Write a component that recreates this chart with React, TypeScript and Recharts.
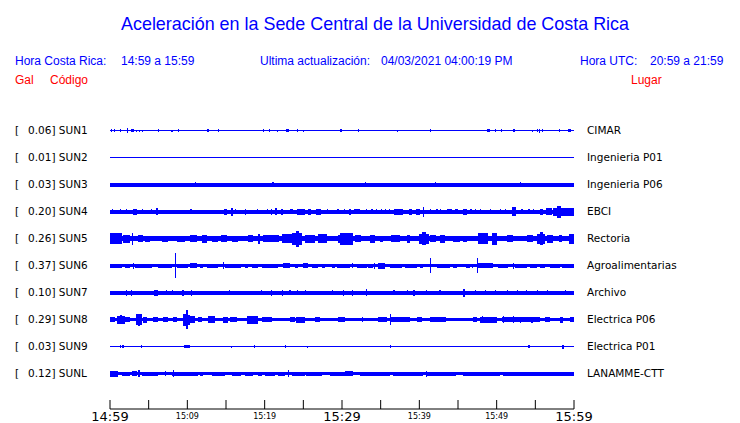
import { Area, ComposedChart, XAxis, YAxis } from "recharts";

// Minutes after 14:59 local time; one tick every 5 minutes, labels every 10.
const tickMinutes = [0, 5, 10, 15, 20, 25, 30, 35, 40, 45, 50, 55, 60];
const tickLabels = ["14:59", "", "15:09", "", "15:19", "", "15:29", "", "15:39", "", "15:49", "", "15:59"];

const channels = ["SUN1", "SUN2", "SUN3", "SUN4", "SUN5", "SUN6", "SUN7", "SUN8", "SUN9", "SUNL"];
const peakGal = [0.06, 0.01, 0.03, 0.2, 0.26, 0.37, 0.1, 0.29, 0.03, 0.12];
const places = [
    "CIMAR", "Ingenieria P01", "Ingenieria P06", "EBCI", "Rectoria",
    "Agroalimentarias", "Archivo", "Electrica P06", "Electrica P01", "LANAMME-CTT",
];

// background noise half-amplitude of each trace (counts)
const noiseLevel = [0.6, 0.6, 2, 2, 2.5, 1.3, 2, 1.7, 0.6, 1.3];

// bursts: [minute, half-amplitude in counts, duration in minutes (default 0.15)]
type Burst = [number, number, number?];

const sun1: Burst[] = [
    [0.13, 1.5], [0.51, 1.5], [1.29, 1.5], [2.2, 2.5], [2.72, 1.5, 0.4], [3.36, 1], [3.7, 1], [4.1, 1],
    [6.25, 1.5], [7.9, 1, 0.3], [8.75, 1.5], [12.6, 1.5], [14.0, 1.5], [19.8, 1.5], [20.6, 1.5], [21.6, 1],
    [22.7, 1.5, 0.4], [24.2, 1.5], [25.0, 1], [29.8, 1.5], [32.1, 1.5], [37.15, 1], [41.4, 1.5],
    [48.8, 1.5, 0.4], [49.8, 1.5], [50.5, 1.5], [52.1, 1.5, 0.3], [54.6, 1], [55.2, 1.5], [55.5, 2],
    [55.8, 1.5], [58.0, 1.5], [59.2, 1.5, 0.4],
];
const sun2: Burst[] = [];
const sun3: Burst[] = [
    [5.2, 1.5], [11.0, 2.5], [16.5, 1.5], [21.0, 2.5], [26.0, 1.5], [33.0, 2.5], [36.5, 1.5],
    [42.0, 2.5], [47.5, 1.5], [53.0, 2.5],
];
const sun4: Burst[] = [
    [0.21, 2.5], [1.33, 2.5], [2.1, 2.5], [3.0, 3, 0.5], [4.09, 2.5], [5.3, 2.5], [6.0, 3.5], [10.4, 2.5],
    [14.8, 3, 0.3], [15.7, 4], [16.1, 2.5], [17.45, 3, 0.2], [19.0, 2.5], [20.3, 2.5], [20.8, 3], [21.4, 3.5],
    [22.05, 3, 0.3], [23.3, 2.5, 0.4], [24.2, 3, 1.0], [25.65, 3, 0.4], [26.6, 3, 0.7], [28.0, 2.5],
    [29.4, 2.5], [30.2, 2.5], [30.95, 3], [31.5, 2.5, 0.8], [33.1, 2.5], [33.8, 2.5], [34.4, 2.5], [35.0, 2.5],
    [35.6, 2.5], [36.1, 2.5], [36.7, 3, 1.2], [38.6, 3, 0.4], [39.55, 3, 0.5], [40.5, 5], [41.4, 2.5],
    [42.2, 2.5], [42.7, 2.5], [43.6, 2.5, 0.6], [44.6, 2.5, 0.4], [45.65, 3, 0.5], [46.6, 2.5], [47.2, 2.5],
    [47.8, 2.5], [49.1, 2.5], [50.4, 2.5], [51.1, 2.5], [52.0, 4.5, 0.5], [53.2, 2.5], [54.1, 2.5],
    [54.65, 2.5], [55.6, 3, 0.4], [56.4, 3.5, 0.8], [57.3, 4, 0.5], [57.8, 6, 0.5], [58.3, 4, 0.6], [58.9, 4, 1.1],
];
const sun5: Burst[] = [
    [0, 5.5, 1.5], [1.72, 4, 0.86], [2.8, 6, 0.2], [3.66, 3.5, 0.64], [4.5, 3, 0.65], [6.68, 3, 0.86],
    [8.62, 3, 1.08], [10.34, 3.5, 0.86], [11.85, 4, 0.65], [13.14, 3, 0.86], [14.4, 3.5, 0.68],
    [15.73, 3, 0.87], [17.9, 3.5, 0.6], [19.2, 5, 0.2], [19.8, 3.5, 2.0], [22.2, 4.5, 1.3], [23.5, 6, 0.5],
    [24.0, 8, 0.5], [24.5, 6, 0.3], [25.2, 4, 1.3], [26.9, 4.5, 1.1], [29.5, 4, 0.9], [29.74, 6, 1.7],
    [31.7, 3.5, 0.8], [33.6, 4, 0.7], [34.9, 3, 0.4], [36.4, 3.5, 1.1], [38.4, 4, 0.4], [39.9, 5, 0.5],
    [40.4, 6.5, 0.4], [40.8, 5, 0.4], [41.4, 3.5, 0.8], [42.7, 4, 0.6], [44.4, 3, 0.9], [45.7, 3, 0.4],
    [47.6, 5.5, 1.3], [49.35, 6, 0.65], [51.3, 3.5, 0.85], [53.9, 3.5, 0.84], [55.2, 5, 0.4],
    [55.6, 6.5, 0.4], [56.0, 5, 0.25], [56.5, 4, 0.8], [58.0, 3.5, 0.4], [59.3, 5, 0.7],
];
const sun6: Burst[] = [
    [0, 2, 1.5], [1.94, 2, 0.64], [3.0, 3], [3.23, 2, 2.15], [6.25, 2, 1.72], [8.44, 12.3, 0.13],
    [8.62, 2, 1.5], [10.34, 2.5, 0.86], [11.63, 2, 0.43], [12.5, 2, 1.5], [14.65, 3.5], [14.87, 2, 2.13],
    [17.45, 2, 0.43], [18.3, 2, 0.9], [19.6, 2, 2.16], [22.4, 2.5, 0.87], [23.9, 2, 0.45], [25.0, 2.5, 0.6],
    [26.07, 2, 0.83], [27.37, 2, 0.43], [28.66, 2, 0.44], [29.3, 2, 1.1], [29.74, 2, 1.26], [31.25, 2.5, 0.21],
    [31.9, 2, 1.3], [33.4, 2, 0.65], [34.14, 3], [34.7, 3, 0.86], [36.2, 2, 1.5], [38.15, 2, 1.5],
    [40.1, 2, 0.4], [41.4, 7.5, 0.13], [42.24, 2, 1.72], [44.4, 2, 0.43], [46.03, 2, 0.52], [46.77, 2, 0.21],
    [47.5, 7.5, 0.13], [47.6, 2.5, 1.97], [50.2, 2, 1.3], [52.15, 3], [52.37, 2, 1.53], [54.3, 2, 0.9],
    [55.6, 2, 0.65], [56.9, 2, 1.3], [58.4, 2, 1.6],
];
const sun7: Burst[] = [
    [2.07, 3], [2.67, 3], [5.73, 3, 0.5], [7.24, 2.5], [7.97, 2.5], [9.35, 3, 0.2], [10.47, 3], [15.38, 2.5],
    [19.5, 2.5], [20.77, 3], [22.2, 3], [23.2, 2.5], [24.2, 2.5], [25.2, 2.5], [28.66, 2.5], [30.17, 3],
    [31.25, 3], [33.1, 3.5], [36.64, 2.5], [38.36, 2.5], [39.14, 3, 0.3], [40.82, 2.5], [42.6, 2.5],
    [45.7, 4], [47.2, 2.5], [48.5, 2.5], [49.8, 2.5], [51.3, 2.5], [52.6, 2.5], [53.8, 2.5], [55.2, 2.5],
    [56.46, 2.5], [58.8, 2.5],
];
const sun8: Burst[] = [
    [0, 2.5, 0.64], [0.86, 4, 1.08], [1.3, 4.5, 0.3], [1.94, 2.5, 0.64], [3.32, 5.5, 0.86], [3.6, 6, 0.3],
    [4.3, 3, 0.44], [5.6, 2.5, 0.65], [6.9, 2.5, 0.64], [8.2, 2.5, 0.42], [9.48, 6, 0.3], [9.78, 9.5, 0.35],
    [10.13, 5, 0.21], [10.34, 3.5, 0.66], [11.4, 2.5, 0.45], [12.7, 3.5, 0.9], [14.65, 3, 0.65],
    [15.5, 2.5, 0.9], [17.67, 4, 1.53], [19.6, 2.5, 1.3], [23.27, 2.5, 0.63], [24.1, 3, 1.1],
    [26.5, 2.5, 0.65], [29.5, 2.5, 0.9], [32.54, 2.5], [34.7, 2.5, 1.1], [36.2, 5.5], [36.4, 2.5, 2.4],
    [39.65, 2.5, 0.65], [41.4, 2.5, 2.1], [47.0, 2.5, 0.4], [47.8, 3, 2.2], [48.06, 3.5], [50.65, 2.5, 4.95],
    [50.86, 3.5], [52.15, 3.5], [53.0, 3], [54.5, 3], [56.25, 2.5, 0.65], [58.2, 3, 0.4], [59.5, 2.5, 0.5],
];
const sun9: Burst[] = [
    [1.29, 1.2], [1.6, 1.2], [3.96, 1.5, 0.2], [9.6, 1.7, 0.74], [15.64, 1], [18.6, 1.5], [22.67, 1.2],
    [25.5, 1], [36.2, 1.2], [54.1, 1.2], [58.5, 2],
];
const sunL: Burst[] = [
    [0, 3, 1.07], [1.5, 2, 1.08], [2.8, 2.7, 0.65], [3.66, 3.5, 0.24], [4.09, 2, 2.16], [7.1, 2.5],
    [7.97, 2, 0.43], [8.1, 3.5, 0.15], [8.4, 2, 3.0], [11.63, 2, 0.43], [13.14, 2, 1.73], [15.73, 2, 1.27],
    [17.45, 2, 1.05], [19.2, 2, 0.4], [20.04, 2, 1.29], [21.76, 2, 0.84], [23.06, 3.5], [23.5, 2, 1.7],
    [25.4, 2, 1.97], [28.45, 2, 1.95], [29.74, 2, 0.43], [30.4, 2.5, 1.06], [32.3, 2, 3.9], [36.6, 2, 3.9],
    [40.86, 3], [40.95, 2, 3.85], [45.7, 2, 4.7], [50.86, 2, 9.14],
];
const bursts = [sun1, sun2, sun3, sun4, sun5, sun6, sun7, sun8, sun9, sunL];

// one trace row per channel; counts -> rows
const GAIN = 1 / 27;
const SPIKE = 0.15;

function buildTable() {
    const times = new Set<number>([0, 60]);
    bursts.forEach(list => list.forEach(([t, , d]) => {
        times.add(t);
        times.add(Math.min(60, +(t + (d ?? SPIKE)).toFixed(3)));
    }));
    const sorted = [...times].sort((a, b) => a - b);
    return sorted.map(t => {
        const row: Record<string, number | number[]> = { t };
        bursts.forEach((list, i) => {
            let h = noiseLevel[i];
            list.forEach(([s, amp, d]) => {
                if (t >= s - 1e-6 && t < s + (d ?? SPIKE) - 1e-6) h = Math.max(h, amp);
            });
            row["c" + i] = [i - h * GAIN, i + h * GAIN];
        });
        return row;
    });
}

const table = buildTable();

function TimeTick(props: any) {
    const { x, y, index } = props;
    const label = tickLabels[index];
    const big = index % 6 === 0;
    return <g>
        <line x1={x} x2={x} y1={y - 9} y2={y} stroke="#000" />
        {label && <text x={x} y={big ? y + 12 : y + 9.5} textAnchor="middle"
            fontFamily="DejaVu Sans" fontSize={big ? 13 : 8} fill="#000">{label}</text>}
    </g>;
}

function ChannelTick(props: any) {
    const { y, payload } = props;
    const i = payload.value;
    return <g fontFamily="DejaVu Sans" fontSize={10.5} fill="#000">
        <text x={15} y={y} dy="0.35em">[</text>
        <text x={28} y={y} dy="0.35em">{peakGal[i].toFixed(2)}] {channels[i]}</text>
        <text x={587} y={y} dy="0.35em">{places[i]}</text>
    </g>;
}

export default function App() {
    const head = { fontFamily: "Liberation Sans, Arial, sans-serif", fontSize: 12, fill: "#0000ff" };
    return <div style={{ position: "absolute", left: 0, top: 0, width: 740, height: 423, background: "#fff" }}>
        <style>{`.recharts-area-area { shape-rendering: crispEdges; }`}</style>
        <ComposedChart width={740} height={423} data={table}
            margin={{ top: 117, right: 166, bottom: 0, left: 0 }}>
            <XAxis dataKey="t" type="number" domain={[0, 60]} ticks={tickMinutes} interval={0}
                allowDataOverflow height={14} tickSize={0} tickMargin={0}
                axisLine={{ stroke: "#000" }} tickLine={false} tick={TimeTick} />
            <YAxis type="number" domain={[-0.5, 10.3148]} reversed allowDataOverflow width={110}
                ticks={[0, 1, 2, 3, 4, 5, 6, 7, 8, 9]} interval={0} axisLine={false} tickLine={false}
                tickSize={0} tickMargin={0} tick={ChannelTick} />
            {channels.map((c, i) =>
                <Area key={c} dataKey={"c" + i} type="stepAfter" fill="#0000ff" fillOpacity={1}
                    stroke="none" dot={false} activeDot={false} isAnimationActive={false} />)}
        </ComposedChart>
        <svg width={740} height={423} style={{ position: "absolute", left: 0, top: 0, pointerEvents: "none" }}>
            <text x={121} y={30} fontFamily="Liberation Sans, Arial, sans-serif" fontSize={19} fill="#0000ff"
                textLength={508} lengthAdjust="spacingAndGlyphs">
                Aceleración en la Sede Central de la Universidad de Costa Rica
            </text>
            <text x={15} y={65} {...head}>Hora Costa Rica:</text>
            <text x={121} y={65} {...head}>14:59 a 15:59</text>
            <text x={260} y={65} {...head}>Ultima actualización:</text>
            <text x={381} y={65} {...head}>04/03/2021 04:00:19 PM</text>
            <text x={580} y={65} {...head}>Hora UTC:</text>
            <text x={650} y={65} {...head}>20:59 a 21:59</text>
            <text x={15} y={84} {...head} fill="#ff0000">Gal</text>
            <text x={50} y={84} {...head} fill="#ff0000">Código</text>
            <text x={631} y={84} {...head} fill="#ff0000">Lugar</text>
        </svg>
    </div>;
}
